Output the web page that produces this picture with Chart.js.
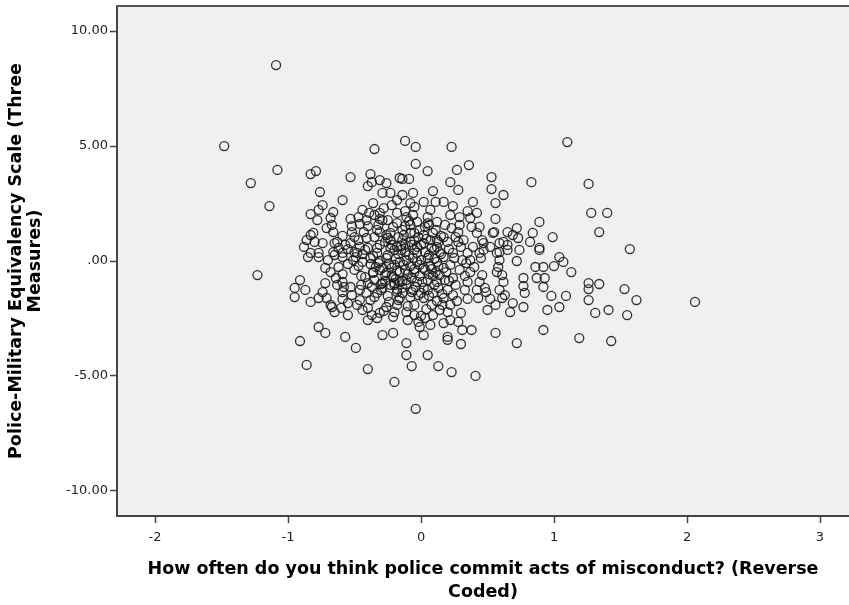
<!DOCTYPE html>
<html><head><meta charset="utf-8">
<script src="https://cdn.jsdelivr.net/npm/chart.js@4"></script>
<style>html,body{margin:0;padding:0;background:#fff;overflow:hidden;}#wrap{width:849px;height:605px;overflow:hidden;}canvas{display:block;}</style>
</head><body><div id="wrap"><canvas id="c" width="849" height="605"></canvas></div>
<script>
const misconductScores = [
-1.09,-1.48,-1.08,-1.28,-1.14,-1.23,-0.35,-0.12,-0.04,0.23,
1.10,-0.04,0.05,0.27,0.36,-0.14,-0.09,-0.83,-0.79,-0.53,
-0.76,-0.59,-0.38,-0.37,-0.40,-0.31,-0.26,-0.29,-0.23,-0.16,
0.53,0.53,0.62,0.56,0.83,1.26,0.22,0.28,0.09,-0.06,
-0.14,1.28,1.40,1.34,1.57,0.89,0.99,0.72,0.84,0.82,
0.89,0.56,0.55,0.59,0.69,0.73,0.74,0.65,0.39,0.35,
0.42,0.24,0.17,0.11,0.02,-0.05,0.07,0.22,0.29,0.37,
0.05,-0.03,0.38,0.44,0.42,0.29,0.23,0.32,0.39,0.26,
0.17,0.09,0.05,0.12,0.02,0.47,0.52,0.57,0.44,0.35,
0.24,-0.08,-0.11,-0.14,-0.08,-0.02,-0.14,-0.07,0.12,0.20,
0.28,0.46,0.54,0.62,0.65,0.47,0.14,0.59,0.65,0.07,
0.03,-0.74,-0.77,-0.83,-0.78,-0.66,-0.68,-0.67,-0.71,-0.66,
-0.36,-0.31,-0.39,-0.53,-0.47,-0.44,-0.41,-0.46,-0.40,-0.32,
-0.25,-0.18,-0.18,-0.83,-0.81,-0.86,-0.88,-0.83,-0.77,-0.74,
-0.65,-0.59,-0.59,-0.53,-0.50,-0.46,-0.41,-0.33,-0.29,-0.23,
-0.22,-0.18,-0.52,-0.47,-0.35,-0.31,-0.26,-0.23,-0.17,-0.57,
-0.40,-0.31,-0.23,-0.18,-0.66,-0.50,-0.80,-0.63,-0.85,-0.77,
-0.59,-0.51,-0.44,-0.38,-0.32,-0.26,-0.20,-0.68,-0.62,-0.59,
-0.50,-0.42,-0.36,-0.27,-0.21,-0.16,-0.91,-0.95,-0.87,-0.95,
-0.83,-0.72,-0.74,-0.77,-0.71,-0.68,-0.63,-0.59,-0.53,-0.52,
-0.46,-0.59,-0.55,-0.48,-0.41,-0.37,-0.35,-0.29,-0.23,-0.18,
-0.44,-0.40,-0.55,-0.37,-0.31,-0.26,-0.18,-0.21,-0.40,-0.77,
-0.72,-0.57,-0.29,-0.21,-0.91,-0.86,-0.49,-0.40,-0.20,-0.65,
-0.67,-0.47,-0.33,-0.29,-0.29,-0.33,-0.38,-0.59,-0.48,-0.11,
-0.03,0.05,0.12,0.17,-0.12,-0.05,0.03,0.11,0.17,-0.11,
-0.03,0.05,0.12,0.18,-0.14,-0.06,0.02,-0.16,-0.08,0.37,
0.37,0.35,0.33,0.44,0.42,0.48,0.43,0.22,0.24,0.24,
0.22,0.17,0.09,0.02,0.08,-0.05,-0.11,0.09,0.20,0.22,
0.28,0.31,0.38,0.17,0.03,-0.10,-0.01,0.02,0.20,0.56,
0.59,0.57,0.61,0.59,0.61,0.63,0.56,0.50,0.62,-0.04,
-0.07,0.13,0.23,0.41,-0.11,0.05,-0.11,0.20,0.30,0.72,
0.92,1.19,1.43,2.06,1.62,1.55,1.53,1.41,1.31,1.34,
1.26,1.26,1.26,1.13,1.09,1.04,0.98,0.95,0.92,0.93,
0.87,0.92,0.86,1.00,1.07,1.04,0.89,0.77,0.77,0.78,
0.77,0.67,0.69,0.49,0.72,0.58,-0.20,-0.12,-0.05,0.03,
0.08,-0.25,-0.16,-0.08,-0.01,0.07,-0.20,-0.25,-0.17,-0.02,
0.05,0.13,-0.07,-0.01,-0.16,-0.22,-0.12,-0.05,0.11,0.18,
-0.08,-0.01,-0.31,-0.35,0.14,0.20,0.26,0.29,0.31,-0.20,
-0.05,0.07,0.14,
-0.27,-0.13,-0.03,0.06,0.13,-0.24,-0.10,0.01,0.09,-0.19,
-0.30,-0.14,-0.04,0.10,0.16,-0.09,-0.19,0.00,0.15,0.21,
-0.36,-0.42,-0.34,-0.27,-0.40,-0.45,-0.55,-0.49,-0.12,0.02,
-0.21,-0.06,-0.28,-0.10,-0.24,0.04,0.27,0.33,0.40,0.30,
0.45,-0.62,-0.70,-0.72,-0.64,-0.15,-0.06,0.08,-0.18,-0.11,
-0.22,-0.08,0.04,-0.17,-0.03,0.10,-0.26,-0.13,0.02,0.13,
-0.20,-0.07,0.06,-0.31,-0.38,-0.44,0.19,0.25,-0.09,0.12,
-0.31,-0.35,-0.52,-0.58,-0.46,-0.28,0.00,0.16,0.35,0.30,
-0.33,-0.15,0.00,0.10,-0.25,-0.05,0.15,-0.36,-0.22,-0.05,
0.06,0.21,-0.14,-0.30,0.00,0.12,-0.18,-0.45,-0.55,-0.65,
-0.43,-0.12,0.06,0.28,0.34,0.46,0.52,-0.02,-0.33,-0.60
];
const equivalencyScores = [
8.52,5.00,3.96,3.39,2.39,-0.61,4.87,5.22,4.96,4.96,
5.17,4.22,3.91,3.96,4.17,3.57,3.57,3.78,3.91,3.65,
3.00,2.65,3.78,3.43,3.26,3.52,3.39,2.96,2.96,3.61,
3.65,3.13,2.87,2.52,3.43,3.35,3.43,3.09,3.04,2.96,
2.87,2.09,2.09,1.26,0.52,1.70,1.04,1.43,1.22,0.83,
0.57,1.83,1.26,0.78,1.13,1.00,0.48,0.70,2.57,2.17,
2.09,2.39,2.57,2.57,2.57,2.35,2.22,2.00,1.91,1.87,
1.91,1.70,1.48,1.48,1.22,1.57,1.43,0.91,0.61,1.04,
1.04,1.22,1.65,0.91,0.78,0.78,0.61,0.35,0.35,0.35,
0.35,2.52,1.91,1.35,1.22,1.04,0.91,0.70,0.61,0.83,
0.83,0.91,1.22,0.83,1.26,0.48,0.39,0.39,0.48,0.91,
1.48,2.43,2.22,2.04,1.78,2.13,1.87,1.57,1.43,1.26,
2.52,2.09,2.09,1.83,1.91,2.22,1.78,1.61,1.52,1.57,
1.78,2.65,2.09,1.13,1.22,0.91,0.61,0.35,0.35,0.78,
0.78,1.09,0.35,0.78,1.04,0.61,1.00,1.35,1.78,1.22,
2.43,1.65,1.26,0.91,1.04,1.26,1.13,0.91,1.04,0.70,
0.57,0.70,0.57,0.61,0.39,0.39,0.83,0.83,0.17,0.17,
0.17,0.04,-0.04,0.13,-0.09,0.13,-0.17,-0.48,-0.26,-0.57,
-0.39,-0.70,-0.48,-0.61,-0.70,-0.48,-0.83,-1.17,-1.26,-1.57,
-1.78,-0.96,-1.35,-1.61,-1.61,-1.91,-1.04,-1.35,-1.13,-1.48,
-1.26,-1.65,-1.83,-1.91,-1.39,-1.13,-1.57,-1.17,-1.04,-1.35,
-2.13,-2.04,-2.35,-2.35,-2.26,-2.00,-1.91,-2.43,-2.57,-2.87,
-3.13,-3.30,-3.22,-3.13,-3.48,-4.52,-3.78,-4.70,-5.26,-2.22,
-2.00,-0.22,0.35,-0.30,-0.96,-1.39,-1.70,-0.91,0.35,0.04,
-0.04,0.13,-0.04,0.17,-0.39,-0.48,-0.39,-0.48,-0.30,-0.83,
-0.91,-0.83,-0.91,-0.83,-1.17,-1.26,-1.17,-1.61,-1.57,0.04,
-0.48,-0.91,-1.26,-0.91,-1.26,-1.17,-1.61,-0.17,-0.74,-1.48,
-1.91,-1.61,-1.39,-1.61,-1.91,-1.91,-2.22,-2.35,-2.22,-2.57,
-2.65,-3.00,-3.00,-2.70,-2.48,-2.57,-2.87,-3.22,-3.30,-3.13,
0.04,-0.48,-0.61,-1.26,-1.61,-1.48,-1.91,-2.13,-0.91,-6.43,
-4.57,-4.57,-4.83,-5.00,-4.09,-4.09,-3.57,-3.43,-3.61,-3.57,
-3.00,-3.35,-3.48,-1.78,-1.70,-2.35,-1.22,-2.13,-2.26,-1.00,
-1.70,-1.22,-0.96,-0.48,-1.52,-2.00,-1.52,-2.13,-1.13,-0.74,
-0.74,-0.26,-0.26,-0.22,-0.04,0.17,0.48,-0.74,-1.09,-1.39,
-2.00,-2.22,-1.83,-1.35,0.00,-0.26,0.48,0.39,0.48,0.39,
0.57,0.26,-0.04,-0.22,-0.17,-0.22,-1.04,-1.52,-1.70,-1.48,
-1.26,-1.17,-0.74,-0.65,-0.91,-0.30,0.70,0.91,1.35,1.57,
1.57,1.35,-0.39,-0.83,-0.61,-1.26,-1.04,-0.39,0.04,-2.22,
-2.35,-2.78,-2.13,
0.83,1.13,0.61,0.26,0.83,-0.13,-0.57,-0.91,-0.65,-0.78,
-1.26,-1.39,-1.13,-1.04,-1.43,0.26,0.09,0.04,0.30,0.52,
0.22,0.48,-0.26,-0.87,-0.96,-0.65,-0.13,0.17,1.52,1.13,
1.48,2.00,2.30,-1.96,-1.78,-2.09,-1.74,-0.65,-0.26,0.61,
0.13,0.57,0.04,-0.30,-0.74,0.65,0.13,-0.35,-0.43,-1.00,
0.70,0.83,0.96,0.30,0.35,0.09,-0.52,-0.17,-0.30,-0.22,
-0.96,-1.35,-1.52,0.00,-0.13,0.30,-0.48,0.13,1.74,1.70,
1.83,2.00,1.52,-1.13,-1.70,-2.17,-2.39,-1.91,-1.65,-2.26,
0.57,0.48,0.70,0.48,1.00,1.22,1.09,-0.52,-0.61,-0.35,
-0.57,-0.87,-0.87,-1.00,-1.39,-1.74,-1.22,-1.04,0.52,0.26,
1.26,2.17,1.57,1.26,-0.09,-0.61,-1.65,-2.65,-2.48,-2.04
];
const xTickValues = [-2, -1, 0, 1, 2, 3];
const yTickValues = [-10, -5, 0, 5, 10];
const yTickLabels = ['-10.00', '-5.00', '.00', '5.00', '10.00'];
const xAxisTitle = ['How often do you think police commit acts of misconduct? (Reverse', 'Coded)'];
const yAxisTitle = ['Police-Military Equivalency Scale (Three', 'Measures)'];

const points = misconductScores.map((x, i) => ({ x: x, y: equivalencyScores[i] }));

const plotFrame = {
  id: 'plotFrame',
  beforeDraw(chart) {
    const { ctx, chartArea: a } = chart;
    ctx.save();
    ctx.fillStyle = '#f0f0f0';
    ctx.fillRect(a.left, a.top, a.right - a.left, a.bottom - a.top);
    ctx.restore();
  },
  afterDraw(chart) {
    const { ctx, chartArea: a } = chart;
    ctx.save();
    ctx.fillStyle = '#f0f0f0';
    ctx.fillRect(a.right - 3, a.top + 1, 3, a.bottom - a.top - 2);
    ctx.strokeStyle = '#555';
    ctx.lineWidth = 2;
    ctx.beginPath();
    ctx.moveTo(a.left, a.top);
    ctx.lineTo(a.right, a.top);
    ctx.stroke();
    ctx.restore();
  }
};

function zeroPad(s) { s.paddingTop = 0; s.paddingBottom = 0; s.paddingLeft = 0; s.paddingRight = 0; }

new Chart(document.getElementById('c').getContext('2d'), {
  type: 'scatter',
  data: { datasets: [{
    data: points,
    pointRadius: 4.5,
    pointHoverRadius: 4.5,
    pointBorderWidth: 1.3,
    pointBorderColor: 'rgba(25,25,25,0.9)',
    pointBackgroundColor: 'rgba(0,0,0,0)'
  }] },
  options: {
    responsive: false,
    animation: false,
    devicePixelRatio: 1,
    layout: { autoPadding: false, padding: { top: 6, right: 0, left: 0, bottom: 0 } },
    plugins: { legend: { display: false }, tooltip: { enabled: false } },
    scales: {
      x: {
        type: 'linear',
        min: -2.286, max: 3.218,
        afterBuildTicks(s) { s.ticks = xTickValues.map(v => ({ value: v })); },
        afterFit(s) { s.height = 89; zeroPad(s); },
        grid: { drawOnChartArea: false, drawTicks: true, tickLength: 7, tickColor: '#444', tickWidth: 1.5 },
        border: { display: true, color: '#444', width: 2 },
        ticks: { font: { family: 'DejaVu Sans', size: 13 }, color: '#222', padding: 7, maxRotation: 0, autoSkip: false,
                 callback: v => String(v) },
        title: { display: true, text: xAxisTitle, color: '#000',
                 font: { family: 'DejaVu Sans', size: 17.5, weight: 'bold', lineHeight: 1.3 },
                 padding: { top: 0, bottom: 1 } }
      },
      y: {
        type: 'linear',
        min: -11.09, max: 11.09,
        afterBuildTicks(s) { s.ticks = yTickValues.map(v => ({ value: v })); },
        afterFit(s) { s.width = 117; zeroPad(s); },
        grid: { drawOnChartArea: false, drawTicks: true, tickLength: 7, tickColor: '#444', tickWidth: 1.5 },
        border: { display: true, color: '#444', width: 2 },
        ticks: { font: { family: 'DejaVu Sans', size: 13 }, color: '#222', padding: 2, autoSkip: false,
                 callback: v => yTickLabels[yTickValues.indexOf(v)] },
        title: { display: true, text: yAxisTitle, color: '#000',
                 font: { family: 'DejaVu Sans', size: 17.5, weight: 'bold', lineHeight: 1.08 },
                 padding: { top: 7, bottom: 0 } }
      }
    }
  },
  plugins: [plotFrame]
});
</script></body></html>
